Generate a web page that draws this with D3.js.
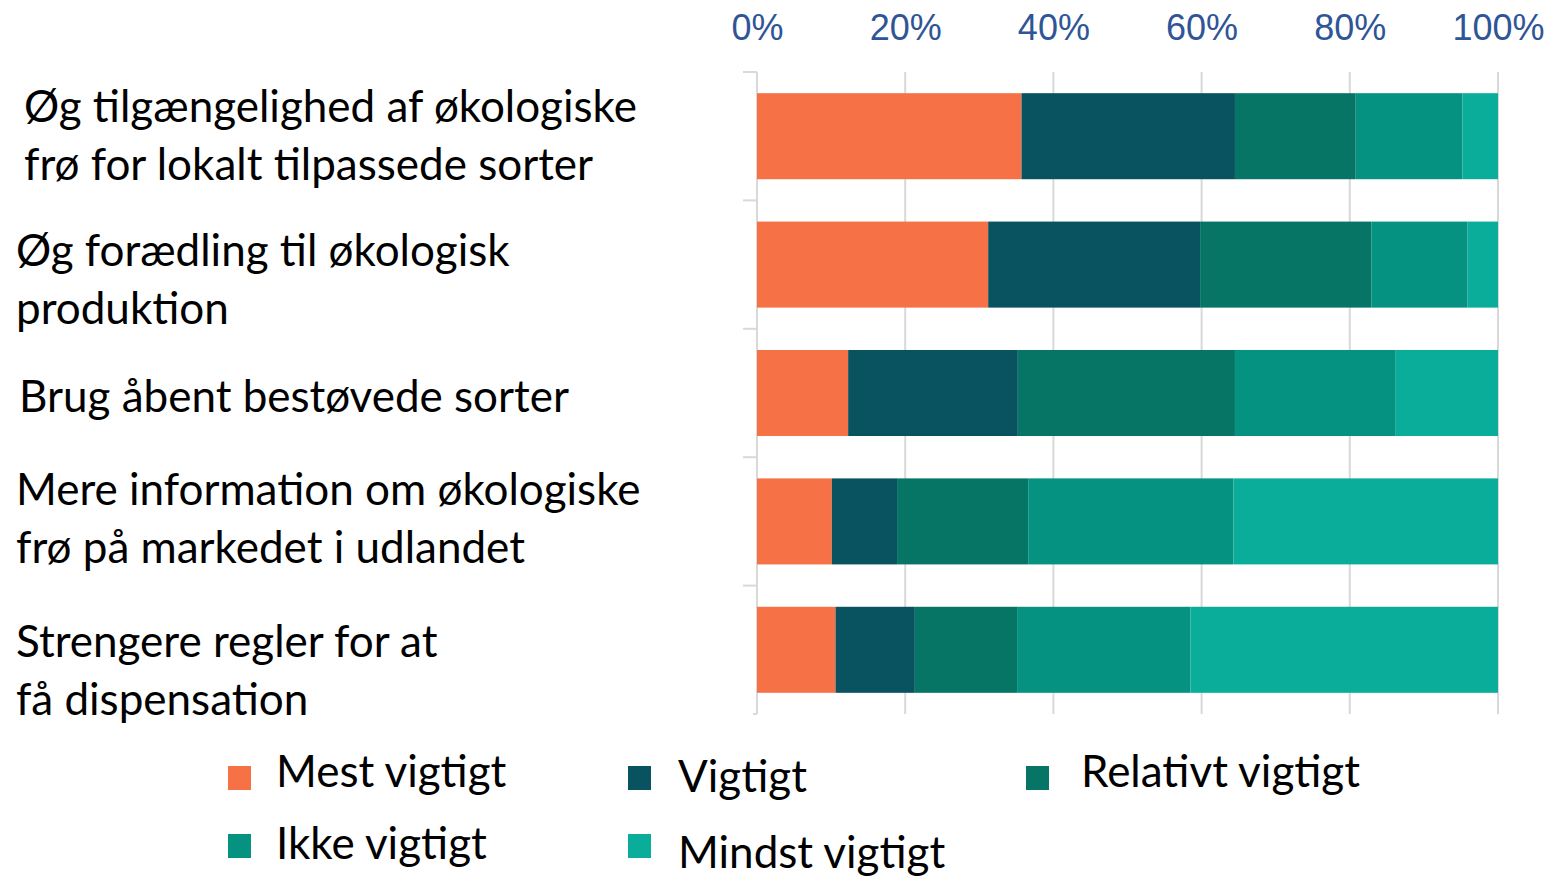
<!DOCTYPE html>
<html>
<head>
<meta charset="utf-8">
<script src="https://cdn.jsdelivr.net/npm/d3@7"></script>
<style>
  body { margin: 0; background: #fff; }
  .cat-label { font-family: Lato, "Open Sans", sans-serif; font-size: 44px; fill: #000; }
  .legend-label { font-family: Lato, "Open Sans", sans-serif; font-size: 44px; fill: #000; }
  .x.axis text { font-family: "Liberation Sans", Arial, sans-serif; font-size: 36px; fill: #2F5597; }
</style>
</head>
<body>
<div class="chart"></div>
<script>
// Data.
const categories = [
  'Øg tilgængelighed af økologiske frø for lokalt tilpassede sorter',
  'Øg forædling til økologisk produktion',
  'Brug åbent bestøvede sorter',
  'Mere information om økologiske frø på markedet i udlandet',
  'Strengere regler for at få dispensation',
];
// Line breaks of the category labels.
const categoryLines = [
  ['Øg tilgængelighed af økologiske', 'frø for lokalt tilpassede sorter'],
  ['Øg forædling til økologisk', 'produktion'],
  ['Brug åbent bestøvede sorter'],
  ['Mere information om økologiske', 'frø på markedet i udlandet'],
  ['Strengere regler for at', 'få dispensation'],
];
const seriesNames = ['Mest vigtigt', 'Vigtigt', 'Relativt vigtigt', 'Ikke vigtigt', 'Mindst vigtigt'];
const mestVigtigt = [35.7, 31.2, 12.3, 10.1, 10.6];
const vigtigt = [28.8, 28.6, 22.9, 8.8, 10.7];
const relativtVigtigt = [16.3, 23.1, 29.3, 17.7, 13.8];
const ikkeVigtigt = [14.4, 13.0, 21.7, 27.7, 23.4];
const mindstVigtigt = [4.8, 4.1, 13.8, 35.7, 41.5];
const tickValues = [0, 20, 40, 60, 80, 100];

const colors = ['#F67246', '#08535F', '#067566', '#069280', '#0AAD99'];

// Build table for the stack.
const table = categories.map((c, i) => ({
  category: c,
  'Mest vigtigt': mestVigtigt[i],
  'Vigtigt': vigtigt[i],
  'Relativt vigtigt': relativtVigtigt[i],
  'Ikke vigtigt': ikkeVigtigt[i],
  'Mindst vigtigt': mindstVigtigt[i],
}));

const stack = d3.stack().keys(seriesNames).offset(d3.stackOffsetExpand);
const stacked = stack(table);

// Sizes.
const W = 1549, H = 876;
const x0 = 757, x1 = 1498, yTop = 72, yBottom = 714;

const xScale = d3.scaleLinear().domain([0, 1]).range([x0, x1]);
const yScale = d3.scaleBand()
  .domain(categories)
  .range([yTop, yBottom])
  .paddingInner(0.33)
  .paddingOuter(0.165);
const color = d3.scaleOrdinal().domain(seriesNames).range(colors);

const svg = d3.select('.chart')
  .append('svg')
  .attr('width', W)
  .attr('height', H);

// Gridlines.
svg.append('g')
  .attr('class', 'grid')
  .selectAll('line')
  .data(tickValues)
  .join('line')
  .attr('x1', d => xScale(d / 100))
  .attr('x2', d => xScale(d / 100))
  .attr('y1', yTop)
  .attr('y2', yBottom)
  .attr('stroke', '#D9D9D9')
  .attr('stroke-width', 2);

// Category separators on the left axis (the last one is cut short).
const step = yScale.step();
const boundaries = categories.map(c => yScale(c) - step * yScale.paddingInner() / 2)
  .concat([yBottom]);
svg.append('g')
  .attr('class', 'y-ticks')
  .selectAll('line')
  .data(boundaries)
  .join('line')
  .attr('x1', (d, i) => i === boundaries.length - 1 ? x0 - 4 : x0 - 14)
  .attr('x2', x0)
  .attr('y1', d => d)
  .attr('y2', d => d)
  .attr('stroke', '#D9D9D9')
  .attr('stroke-width', 2);

// Bars.
svg.append('g')
  .attr('class', 'bars')
  .selectAll('g')
  .data(stacked)
  .join('g')
  .attr('fill', d => color(d.key))
  .selectAll('rect')
  .data(d => d)
  .join('rect')
  .attr('x', d => xScale(d[0]))
  .attr('y', d => yScale(d.data.category))
  .attr('width', d => xScale(d[1]) - xScale(d[0]))
  .attr('height', yScale.bandwidth());

// Top axis labels.
const xAxis = d3.axisTop(xScale)
  .tickValues(tickValues.map(d => d / 100))
  .tickFormat(d3.format('.0%'))
  .tickSize(0)
  .tickPadding(0);
const xAxisDraw = svg.append('g')
  .attr('class', 'x axis')
  .attr('transform', 'translate(0,40)')
  .call(xAxis);
xAxisDraw.select('.domain').remove();

// Category labels.
const labelX = [24, 16, 19, 16, 16];
const labelBase = [122, 266, 412, 505, 657];
const labels = svg.append('g')
  .attr('class', 'cat-labels')
  .selectAll('text')
  .data(categoryLines)
  .join('text')
  .attr('class', 'cat-label')
  .attr('y', (d, i) => labelBase[i]);
labels.selectAll('tspan')
  .data((d, i) => d.map(t => ({ t, x: labelX[i] })))
  .join('tspan')
  .attr('x', d => d.x)
  .attr('dy', (d, j) => j === 0 ? 0 : 57.5)
  .text(d => d.t);

// Legend.
const legendPos = [
  { sx: 228, sy: 766, tx: 276, ty: 787 },
  { sx: 628, sy: 766, tx: 678, ty: 792 },
  { sx: 1026, sy: 766, tx: 1081, ty: 787 },
  { sx: 228, sy: 834, tx: 276, ty: 859 },
  { sx: 628, sy: 834, tx: 678, ty: 868 },
];
const legend = svg.append('g')
  .attr('class', 'legend')
  .selectAll('g')
  .data(seriesNames)
  .join('g');
legend.append('rect')
  .attr('x', (d, i) => legendPos[i].sx)
  .attr('y', (d, i) => legendPos[i].sy)
  .attr('width', 23)
  .attr('height', 24)
  .attr('fill', d => color(d));
legend.append('text')
  .attr('class', 'legend-label')
  .attr('x', (d, i) => legendPos[i].tx)
  .attr('y', (d, i) => legendPos[i].ty)
  .text(d => d);
</script>
</body>
</html>
